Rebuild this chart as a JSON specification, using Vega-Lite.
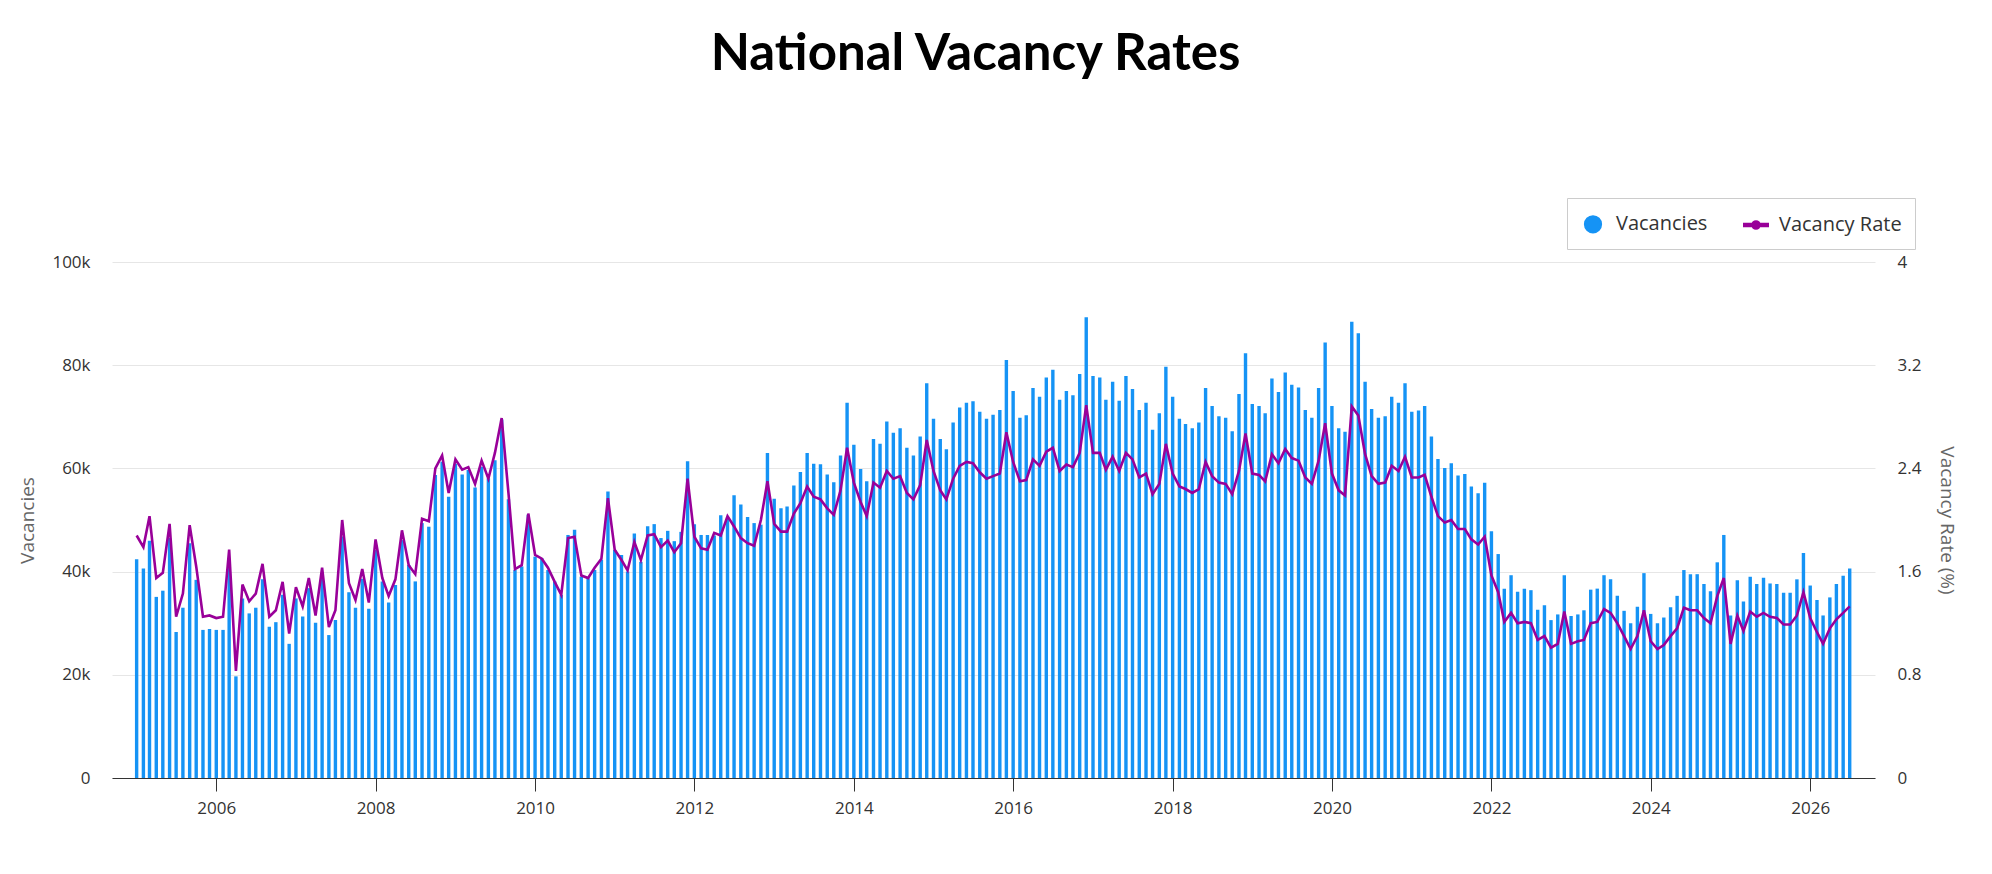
{
  "$schema": "https://vega.github.io/schema/vega-lite/v6.json",
  "width": 1763,
  "height": 516,
  "autosize": {"type": "none"},
  "padding": {"left": 112, "top": 262, "right": 117, "bottom": 96},
  "title": {
    "text": "National Vacancy Rates",
    "font": "Lato",
    "fontWeight": "bold",
    "fontSize": 51,
    "color": "#000000",
    "anchor": "middle",
    "frame": "group",
    "baseline": "alphabetic",
    "offset": 77,
    "dx": -18
  },
  "config": {
    "view": {"stroke": null},
    "font": "Open Sans",
    "axis": {"labelFont": "Open Sans", "titleFont": "Open Sans"},
    "legend": {"labelFont": "Open Sans"}
  },
  "data": {
    "values": [
      {"m": "2005-01", "v": 42400, "r": 1.88}, {"m": "2005-02", "v": 40600, "r": 1.79}, {"m": "2005-03", "v": 46000, "r": 2.03},
      {"m": "2005-04", "v": 35100, "r": 1.55}, {"m": "2005-05", "v": 36300, "r": 1.59}, {"m": "2005-06", "v": 46500, "r": 1.97},
      {"m": "2005-07", "v": 28300, "r": 1.25}, {"m": "2005-08", "v": 33000, "r": 1.43}, {"m": "2005-09", "v": 45500, "r": 1.96},
      {"m": "2005-10", "v": 38400, "r": 1.64}, {"m": "2005-11", "v": 28700, "r": 1.25}, {"m": "2005-12", "v": 28900, "r": 1.26},
      {"m": "2006-01", "v": 28700, "r": 1.24}, {"m": "2006-02", "v": 28700, "r": 1.25}, {"m": "2006-03", "v": 41500, "r": 1.77},
      {"m": "2006-04", "v": 19700, "r": 0.83}, {"m": "2006-05", "v": 34800, "r": 1.50}, {"m": "2006-06", "v": 31900, "r": 1.37},
      {"m": "2006-07", "v": 33000, "r": 1.43}, {"m": "2006-08", "v": 38500, "r": 1.66}, {"m": "2006-09", "v": 29300, "r": 1.25},
      {"m": "2006-10", "v": 30200, "r": 1.30}, {"m": "2006-11", "v": 35500, "r": 1.52}, {"m": "2006-12", "v": 26000, "r": 1.12},
      {"m": "2007-01", "v": 34800, "r": 1.48}, {"m": "2007-02", "v": 31300, "r": 1.33}, {"m": "2007-03", "v": 36800, "r": 1.55},
      {"m": "2007-04", "v": 30100, "r": 1.26}, {"m": "2007-05", "v": 39700, "r": 1.63}, {"m": "2007-06", "v": 27700, "r": 1.17},
      {"m": "2007-07", "v": 30600, "r": 1.30}, {"m": "2007-08", "v": 46800, "r": 2.00}, {"m": "2007-09", "v": 36000, "r": 1.51},
      {"m": "2007-10", "v": 33000, "r": 1.38}, {"m": "2007-11", "v": 38600, "r": 1.62}, {"m": "2007-12", "v": 32800, "r": 1.36},
      {"m": "2008-01", "v": 44200, "r": 1.85}, {"m": "2008-02", "v": 38100, "r": 1.55}, {"m": "2008-03", "v": 34000, "r": 1.41},
      {"m": "2008-04", "v": 37400, "r": 1.54}, {"m": "2008-05", "v": 46100, "r": 1.92}, {"m": "2008-06", "v": 41300, "r": 1.65},
      {"m": "2008-07", "v": 38100, "r": 1.58}, {"m": "2008-08", "v": 49400, "r": 2.01}, {"m": "2008-09", "v": 48700, "r": 1.99},
      {"m": "2008-10", "v": 58700, "r": 2.40}, {"m": "2008-11", "v": 61300, "r": 2.50}, {"m": "2008-12", "v": 54500, "r": 2.21},
      {"m": "2009-01", "v": 60900, "r": 2.47}, {"m": "2009-02", "v": 58800, "r": 2.39}, {"m": "2009-03", "v": 59700, "r": 2.41},
      {"m": "2009-04", "v": 56300, "r": 2.28}, {"m": "2009-05", "v": 60300, "r": 2.46}, {"m": "2009-06", "v": 58100, "r": 2.32},
      {"m": "2009-07", "v": 61600, "r": 2.52}, {"m": "2009-08", "v": 69500, "r": 2.79}, {"m": "2009-09", "v": 54000, "r": 2.21},
      {"m": "2009-10", "v": 40300, "r": 1.62}, {"m": "2009-11", "v": 41000, "r": 1.65}, {"m": "2009-12", "v": 51000, "r": 2.05},
      {"m": "2010-01", "v": 42900, "r": 1.73}, {"m": "2010-02", "v": 42600, "r": 1.70}, {"m": "2010-03", "v": 40300, "r": 1.63},
      {"m": "2010-04", "v": 38100, "r": 1.52}, {"m": "2010-05", "v": 35500, "r": 1.42}, {"m": "2010-06", "v": 47100, "r": 1.86},
      {"m": "2010-07", "v": 48100, "r": 1.87}, {"m": "2010-08", "v": 39000, "r": 1.57}, {"m": "2010-09", "v": 38700, "r": 1.55},
      {"m": "2010-10", "v": 40300, "r": 1.63}, {"m": "2010-11", "v": 42300, "r": 1.70}, {"m": "2010-12", "v": 55500, "r": 2.17},
      {"m": "2011-01", "v": 44200, "r": 1.77}, {"m": "2011-02", "v": 43200, "r": 1.69}, {"m": "2011-03", "v": 40000, "r": 1.61},
      {"m": "2011-04", "v": 47400, "r": 1.83}, {"m": "2011-05", "v": 41900, "r": 1.69}, {"m": "2011-06", "v": 48800, "r": 1.88},
      {"m": "2011-07", "v": 49200, "r": 1.89}, {"m": "2011-08", "v": 46500, "r": 1.79}, {"m": "2011-09", "v": 47900, "r": 1.84},
      {"m": "2011-10", "v": 45900, "r": 1.75}, {"m": "2011-11", "v": 47700, "r": 1.82}, {"m": "2011-12", "v": 61400, "r": 2.32},
      {"m": "2012-01", "v": 49200, "r": 1.87}, {"m": "2012-02", "v": 47100, "r": 1.78}, {"m": "2012-03", "v": 47100, "r": 1.77},
      {"m": "2012-04", "v": 47000, "r": 1.90}, {"m": "2012-05", "v": 50900, "r": 1.88}, {"m": "2012-06", "v": 50300, "r": 2.03},
      {"m": "2012-07", "v": 54800, "r": 1.95}, {"m": "2012-08", "v": 53000, "r": 1.86}, {"m": "2012-09", "v": 50600, "r": 1.82},
      {"m": "2012-10", "v": 49400, "r": 1.80}, {"m": "2012-11", "v": 49100, "r": 2.00}, {"m": "2012-12", "v": 63000, "r": 2.30},
      {"m": "2013-01", "v": 54100, "r": 1.97}, {"m": "2013-02", "v": 52300, "r": 1.91}, {"m": "2013-03", "v": 52600, "r": 1.91},
      {"m": "2013-04", "v": 56700, "r": 2.05}, {"m": "2013-05", "v": 59300, "r": 2.13}, {"m": "2013-06", "v": 63000, "r": 2.26},
      {"m": "2013-07", "v": 60900, "r": 2.18}, {"m": "2013-08", "v": 60800, "r": 2.16}, {"m": "2013-09", "v": 58800, "r": 2.09},
      {"m": "2013-10", "v": 57300, "r": 2.04}, {"m": "2013-11", "v": 62500, "r": 2.23}, {"m": "2013-12", "v": 72700, "r": 2.56},
      {"m": "2014-01", "v": 64600, "r": 2.29}, {"m": "2014-02", "v": 59900, "r": 2.14}, {"m": "2014-03", "v": 57500, "r": 2.03},
      {"m": "2014-04", "v": 65700, "r": 2.29}, {"m": "2014-05", "v": 64800, "r": 2.25}, {"m": "2014-06", "v": 69100, "r": 2.38},
      {"m": "2014-07", "v": 66900, "r": 2.32}, {"m": "2014-08", "v": 67800, "r": 2.34}, {"m": "2014-09", "v": 64000, "r": 2.21},
      {"m": "2014-10", "v": 62500, "r": 2.16}, {"m": "2014-11", "v": 66200, "r": 2.27}, {"m": "2014-12", "v": 76500, "r": 2.62},
      {"m": "2015-01", "v": 69600, "r": 2.38}, {"m": "2015-02", "v": 65700, "r": 2.23}, {"m": "2015-03", "v": 63700, "r": 2.16},
      {"m": "2015-04", "v": 68900, "r": 2.32}, {"m": "2015-05", "v": 71800, "r": 2.42}, {"m": "2015-06", "v": 72700, "r": 2.45},
      {"m": "2015-07", "v": 73000, "r": 2.44}, {"m": "2015-08", "v": 71000, "r": 2.37}, {"m": "2015-09", "v": 69600, "r": 2.32},
      {"m": "2015-10", "v": 70400, "r": 2.34}, {"m": "2015-11", "v": 71300, "r": 2.36}, {"m": "2015-12", "v": 81000, "r": 2.68},
      {"m": "2016-01", "v": 75000, "r": 2.45}, {"m": "2016-02", "v": 69800, "r": 2.30}, {"m": "2016-03", "v": 70300, "r": 2.31},
      {"m": "2016-04", "v": 75600, "r": 2.47}, {"m": "2016-05", "v": 73900, "r": 2.42}, {"m": "2016-06", "v": 77600, "r": 2.53},
      {"m": "2016-07", "v": 79100, "r": 2.56}, {"m": "2016-08", "v": 73300, "r": 2.38}, {"m": "2016-09", "v": 75000, "r": 2.43},
      {"m": "2016-10", "v": 74200, "r": 2.41}, {"m": "2016-11", "v": 78300, "r": 2.52}, {"m": "2016-12", "v": 89300, "r": 2.89},
      {"m": "2017-01", "v": 77900, "r": 2.52}, {"m": "2017-02", "v": 77600, "r": 2.52}, {"m": "2017-03", "v": 73300, "r": 2.39},
      {"m": "2017-04", "v": 76800, "r": 2.49}, {"m": "2017-05", "v": 73100, "r": 2.38}, {"m": "2017-06", "v": 77900, "r": 2.52},
      {"m": "2017-07", "v": 75400, "r": 2.47}, {"m": "2017-08", "v": 71300, "r": 2.33}, {"m": "2017-09", "v": 72700, "r": 2.36},
      {"m": "2017-10", "v": 67500, "r": 2.20}, {"m": "2017-11", "v": 70700, "r": 2.28}, {"m": "2017-12", "v": 79700, "r": 2.59},
      {"m": "2018-01", "v": 73900, "r": 2.36}, {"m": "2018-02", "v": 69600, "r": 2.26}, {"m": "2018-03", "v": 68600, "r": 2.24},
      {"m": "2018-04", "v": 67800, "r": 2.21}, {"m": "2018-05", "v": 68900, "r": 2.24}, {"m": "2018-06", "v": 75600, "r": 2.45},
      {"m": "2018-07", "v": 72100, "r": 2.34}, {"m": "2018-08", "v": 70100, "r": 2.29}, {"m": "2018-09", "v": 69800, "r": 2.28},
      {"m": "2018-10", "v": 67200, "r": 2.20}, {"m": "2018-11", "v": 74400, "r": 2.38}, {"m": "2018-12", "v": 82300, "r": 2.67},
      {"m": "2019-01", "v": 72500, "r": 2.36}, {"m": "2019-02", "v": 72100, "r": 2.35}, {"m": "2019-03", "v": 70700, "r": 2.30},
      {"m": "2019-04", "v": 77400, "r": 2.51}, {"m": "2019-05", "v": 74800, "r": 2.44}, {"m": "2019-06", "v": 78600, "r": 2.55},
      {"m": "2019-07", "v": 76200, "r": 2.48}, {"m": "2019-08", "v": 75700, "r": 2.46}, {"m": "2019-09", "v": 71300, "r": 2.33},
      {"m": "2019-10", "v": 69800, "r": 2.28}, {"m": "2019-11", "v": 75600, "r": 2.46}, {"m": "2019-12", "v": 84400, "r": 2.75},
      {"m": "2020-01", "v": 72100, "r": 2.36}, {"m": "2020-02", "v": 67800, "r": 2.23}, {"m": "2020-03", "v": 67100, "r": 2.19},
      {"m": "2020-04", "v": 88400, "r": 2.88}, {"m": "2020-05", "v": 86200, "r": 2.81}, {"m": "2020-06", "v": 76800, "r": 2.51},
      {"m": "2020-07", "v": 71500, "r": 2.34}, {"m": "2020-08", "v": 69800, "r": 2.28}, {"m": "2020-09", "v": 70100, "r": 2.29},
      {"m": "2020-10", "v": 73900, "r": 2.42}, {"m": "2020-11", "v": 72700, "r": 2.38}, {"m": "2020-12", "v": 76500, "r": 2.49},
      {"m": "2021-01", "v": 71000, "r": 2.33}, {"m": "2021-02", "v": 71200, "r": 2.33}, {"m": "2021-03", "v": 72100, "r": 2.35},
      {"m": "2021-04", "v": 66200, "r": 2.18}, {"m": "2021-05", "v": 61800, "r": 2.03}, {"m": "2021-06", "v": 60100, "r": 1.98},
      {"m": "2021-07", "v": 61000, "r": 2.00}, {"m": "2021-08", "v": 58600, "r": 1.93}, {"m": "2021-09", "v": 58900, "r": 1.93},
      {"m": "2021-10", "v": 56500, "r": 1.85}, {"m": "2021-11", "v": 55200, "r": 1.81}, {"m": "2021-12", "v": 57200, "r": 1.87},
      {"m": "2022-01", "v": 47800, "r": 1.57}, {"m": "2022-02", "v": 43400, "r": 1.44}, {"m": "2022-03", "v": 36700, "r": 1.21},
      {"m": "2022-04", "v": 39300, "r": 1.28}, {"m": "2022-05", "v": 36100, "r": 1.20}, {"m": "2022-06", "v": 36700, "r": 1.21},
      {"m": "2022-07", "v": 36400, "r": 1.20}, {"m": "2022-08", "v": 32600, "r": 1.07}, {"m": "2022-09", "v": 33500, "r": 1.10},
      {"m": "2022-10", "v": 30600, "r": 1.01}, {"m": "2022-11", "v": 31700, "r": 1.04}, {"m": "2022-12", "v": 39300, "r": 1.29},
      {"m": "2023-01", "v": 31400, "r": 1.04}, {"m": "2023-02", "v": 31700, "r": 1.06}, {"m": "2023-03", "v": 32500, "r": 1.07},
      {"m": "2023-04", "v": 36500, "r": 1.20}, {"m": "2023-05", "v": 36700, "r": 1.21}, {"m": "2023-06", "v": 39300, "r": 1.31},
      {"m": "2023-07", "v": 38500, "r": 1.28}, {"m": "2023-08", "v": 35300, "r": 1.20}, {"m": "2023-09", "v": 32400, "r": 1.10},
      {"m": "2023-10", "v": 30000, "r": 1.00}, {"m": "2023-11", "v": 33200, "r": 1.10}, {"m": "2023-12", "v": 39700, "r": 1.30},
      {"m": "2024-01", "v": 31800, "r": 1.06}, {"m": "2024-02", "v": 30000, "r": 1.00}, {"m": "2024-03", "v": 31100, "r": 1.03},
      {"m": "2024-04", "v": 33100, "r": 1.10}, {"m": "2024-05", "v": 35300, "r": 1.16}, {"m": "2024-06", "v": 40300, "r": 1.32},
      {"m": "2024-07", "v": 39500, "r": 1.30}, {"m": "2024-08", "v": 39500, "r": 1.30}, {"m": "2024-09", "v": 37600, "r": 1.24},
      {"m": "2024-10", "v": 36200, "r": 1.20}, {"m": "2024-11", "v": 41800, "r": 1.41}, {"m": "2024-12", "v": 47100, "r": 1.55},
      {"m": "2025-01", "v": 31500, "r": 1.04}, {"m": "2025-02", "v": 38300, "r": 1.26}, {"m": "2025-03", "v": 34200, "r": 1.14},
      {"m": "2025-04", "v": 39000, "r": 1.29}, {"m": "2025-05", "v": 37600, "r": 1.25}, {"m": "2025-06", "v": 38800, "r": 1.28},
      {"m": "2025-07", "v": 37700, "r": 1.25}, {"m": "2025-08", "v": 37600, "r": 1.24}, {"m": "2025-09", "v": 35900, "r": 1.19},
      {"m": "2025-10", "v": 35900, "r": 1.19}, {"m": "2025-11", "v": 38500, "r": 1.26}, {"m": "2025-12", "v": 43600, "r": 1.44},
      {"m": "2026-01", "v": 37300, "r": 1.24}, {"m": "2026-02", "v": 34500, "r": 1.13}, {"m": "2026-03", "v": 31500, "r": 1.04},
      {"m": "2026-04", "v": 35000, "r": 1.16}, {"m": "2026-05", "v": 37600, "r": 1.23}, {"m": "2026-06", "v": 39200, "r": 1.28},
      {"m": "2026-07", "v": 40600, "r": 1.33}
    ]
  },
  "layer": [
    {
      "mark": {"type": "bar", "width": 3.4},
      "encoding": {
        "x": {
          "field": "m",
          "type": "temporal",
          "scale": {"domain": [{"year": 2004, "month": 10, "date": 3}, {"year": 2026, "month": 10, "date": 2}]},
          "axis": {
            "title": null,
            "format": "%Y",
            "tickCount": {"interval": "year", "step": 2},
            "grid": false,
            "domainColor": "#333333",
            "tickColor": "#333333",
            "tickSize": 13,
            "labelPadding": 9,
            "labelFontSize": 17,
            "labelColor": "#333333"
          }
        },
        "y": {
          "field": "v",
          "type": "quantitative",
          "scale": {"domain": [0, 100000], "nice": false},
          "axis": {
            "title": "Vacancies",
            "values": [0, 20000, 40000, 60000, 80000, 100000],
            "format": "~s",
            "labelExpr": "datum.value === 0 ? '0' : datum.label",
            "grid": true,
            "gridColor": "#e6e6e6",
            "domain": false,
            "ticks": false,
            "labelPadding": 22,
            "labelFontSize": 17,
            "labelColor": "#333333",
            "titleFontSize": 19,
            "titleFontWeight": "normal",
            "titleColor": "#666666",
            "titlePadding": 14
          }
        },
        "color": {
          "datum": "Vacancies",
          "type": "nominal",
          "scale": {"domain": ["Vacancies", "Vacancy Rate"], "range": ["#1593f5", "#990099"]},
          "legend": {
            "title": null,
            "orient": "none",
            "legendX": 1455,
            "legendY": -64,
            "direction": "horizontal",
            "padding": 13,
            "strokeColor": "#cccccc",
            "fillColor": "#ffffff",
            "labelFontSize": 20,
            "labelColor": "#333333",
            "labelOffset": 10,
            "columnPadding": 32,
            "symbolSize": 280,
            "encode": {
              "symbols": {
                "update": {
                  "shape": {"signal": "datum.value === 'Vacancies' ? 'circle' : 'M-1,-0.12L1,-0.12L1,0.12L-1,0.12Z M-0.33,0A0.33,0.33 0 1,1 0.33,0A0.33,0.33 0 1,1 -0.33,0Z'"},
                  "size": {"signal": "datum.value === 'Vacancies' ? 280 : 600"},
                  "fill": {"signal": "datum.value === 'Vacancies' ? '#1593f5' : '#990099'"},
                  "stroke": {"value": "transparent"},
                  "opacity": {"value": 1}
                }
              }
            }
          }
        }
      }
    },
    {
      "mark": {"type": "line", "strokeWidth": 2.6},
      "encoding": {
        "x": {"field": "m", "type": "temporal"},
        "y": {
          "field": "r",
          "type": "quantitative",
          "scale": {"domain": [0, 4], "nice": false},
          "axis": {
            "orient": "right",
            "title": "Vacancy Rate (%)",
            "values": [0, 0.8, 1.6, 2.4, 3.2, 4],
            "format": "~g",
            "grid": false,
            "domain": false,
            "ticks": false,
            "labelPadding": 22,
            "labelFontSize": 17,
            "labelColor": "#333333",
            "titleFontSize": 19,
            "titleFontWeight": "normal",
            "titleColor": "#666666",
            "titlePadding": 16
          }
        },
        "color": {"datum": "Vacancy Rate", "type": "nominal"}
      }
    }
  ],
  "resolve": {"scale": {"y": "independent"}}
}
